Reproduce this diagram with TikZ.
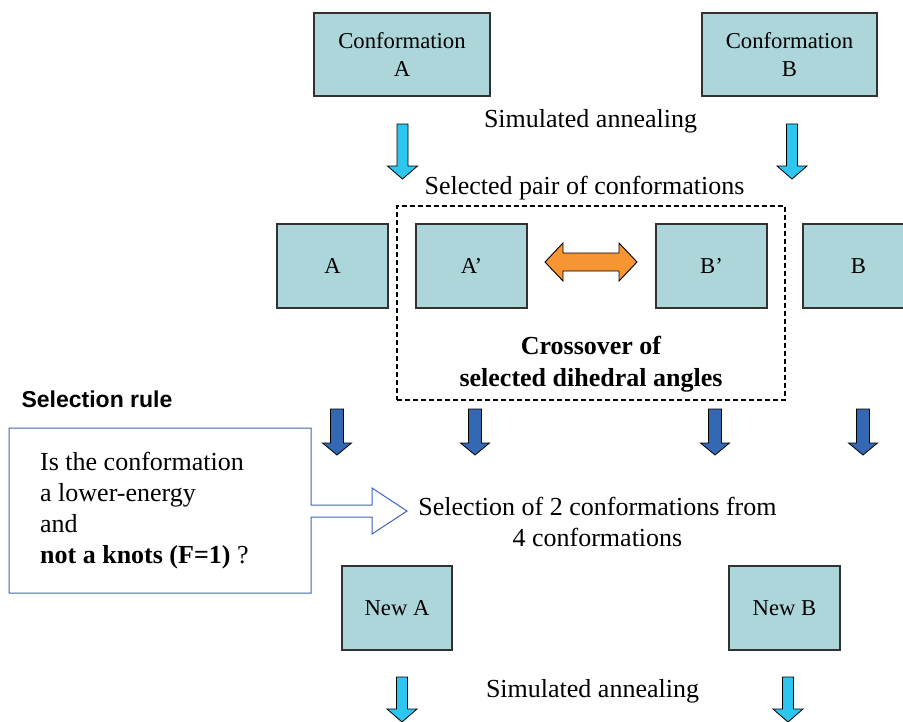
\documentclass[tikz,border=0pt]{standalone}
\usepackage{fontspec}
\setmainfont{Liberation Serif}
\newfontfamily\arialfont{Liberation Sans}
\definecolor{boxfill}{RGB}{173,214,218}
\definecolor{boxline}{RGB}{50,50,50}
\definecolor{cyanfill}{RGB}{44,198,240}
\definecolor{bluefill}{RGB}{52,104,178}
\definecolor{orangefill}{RGB}{247,148,51}
\definecolor{calloutline}{RGB}{60,100,190}
\newcommand{\blockdown}[7]{%
  \draw[#1] (#2-#4,#3) -- (#2+#4,#3) -- (#2+#4,#6) -- (#2+#5,#6) -- (#2,#7)
    -- (#2-#5,#6) -- (#2-#4,#6) -- cycle;}
\begin{document}
\begin{tikzpicture}[x=1pt,y=-1pt,
  box/.style={draw=boxline, fill=boxfill, line width=1.2pt, inner sep=0pt,
    align=center, font=\fontsize{22.7}{27}\selectfont},
  lbl/.style={inner sep=0pt, align=center, font=\fontsize{26}{31}\selectfont},
  cyanarrow/.style={fill=cyanfill, draw=black, line width=0.8pt},
  bluearrow/.style={fill=bluefill, draw=black, line width=0.8pt},
  dblarrow/.style={fill=orangefill, draw=black, line width=0.9pt},
  callout/.style={draw=calloutline, fill=white, line width=1pt}]
\useasboundingbox (0,0) rectangle (903,721);
\clip (0,0) rectangle (903,721);
\fill[white] (0,0) rectangle (903,721);

% top boxes
\node[box, minimum width=176pt, minimum height=83pt] (confA) at (402,54.5) {Conformation\\[1pt]A};
\node[box, minimum width=175pt, minimum height=83pt] (confB) at (789.5,54.5) {Conformation\\[1pt]B};

\node[lbl] (sa1) at (590.5,121) {Simulated annealing};
\blockdown{cyanarrow}{402.5}{124}{5.5}{15}{166}{179}
\blockdown{cyanarrow}{792}{124}{5.5}{15}{166}{179}

\node[lbl] (selpair) at (584.5,188.5) {Selected pair of conformations};

% crossover frame
\node[draw, dashed, dash pattern=on 5pt off 3pt, line width=2pt, inner sep=0pt,
  minimum width=388pt, minimum height=194pt] (cross) at (591,303) {};

\node[box, minimum width=111pt, minimum height=84pt] (A) at (332.5,266) {A};
\node[box, minimum width=111pt, minimum height=84pt] (Ap) at (471.5,266) {A’};
\node[box, minimum width=111pt, minimum height=84pt] (Bp) at (711.5,266) {B’};
\node[box, minimum width=111pt, minimum height=84pt] (B) at (858.5,266) {B};

\draw[dblarrow] (545,262) -- (563,243) -- (563,253) -- (619,253) -- (619,243)
  -- (637,262) -- (619,281) -- (619,271) -- (563,271) -- (563,281) -- cycle;

\node[lbl, font=\fontsize{26}{32}\selectfont\bfseries] (crosstxt) at (591,364)
  {Crossover of\\selected dihedral angles};

% selection rule
\node[inner sep=0pt, font=\fontsize{23}{27}\selectfont\arialfont\bfseries] (selrule) at (97,399) {Selection rule};

\blockdown{bluearrow}{337}{409}{6.5}{14.5}{443}{455}
\blockdown{bluearrow}{475}{409}{6.5}{14.5}{443}{455}
\blockdown{bluearrow}{715}{409}{6.5}{14.5}{443}{455}
\blockdown{bluearrow}{863}{409}{6.5}{14.5}{443}{455}

\draw[callout] (9,428) -- (311,428) -- (311,505) -- (372,505) -- (372,488)
  -- (407,511) -- (372,534) -- (372,517) -- (311,517) -- (311,593) -- (9,593) -- cycle;
\node[inner sep=0pt, anchor=west, align=left, font=\fontsize{26}{31}\selectfont] (rule) at (40,510.5)
  {Is the conformation\\a lower-energy\\and\\\textbf{not a knots (F=1)} ?};

\node[lbl] (sel) at (597.5,522) {Selection of 2 conformations from\\4 conformations};

% new boxes
\node[box, minimum width=110pt, minimum height=84pt] (newA) at (397,608) {New A};
\node[box, minimum width=111pt, minimum height=84pt] (newB) at (784.5,608) {New B};

\node[lbl] (sa2) at (592.5,691.5) {Simulated annealing};
\blockdown{cyanarrow}{402}{677}{5.5}{15}{709}{722}
\blockdown{cyanarrow}{788}{677}{5.5}{15}{709}{722}
\end{tikzpicture}
\end{document}
